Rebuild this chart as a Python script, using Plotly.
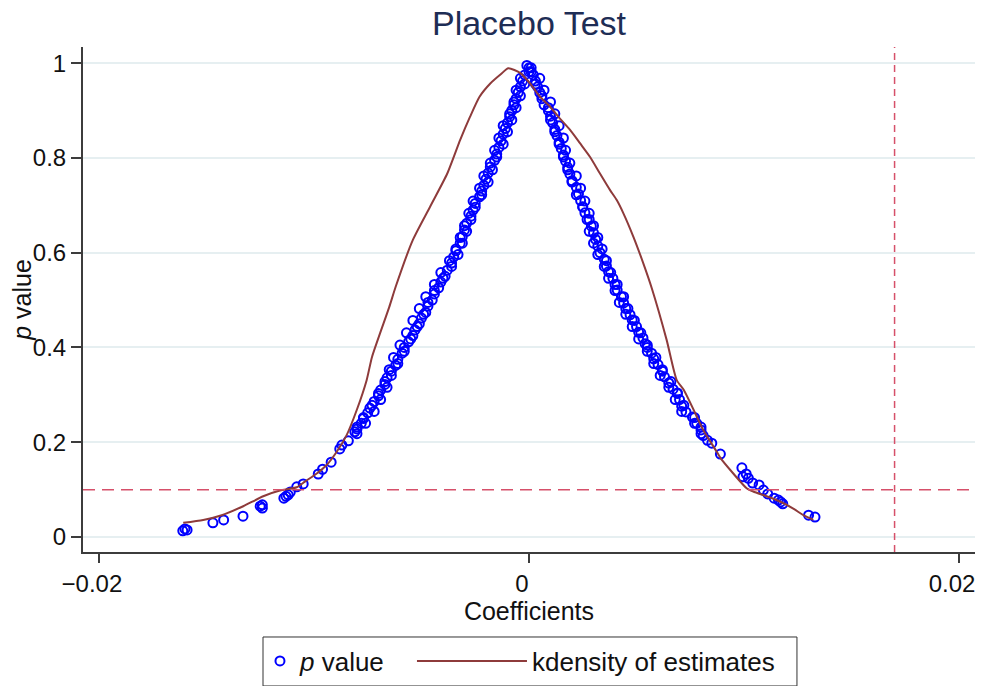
import plotly.graph_objects as go

# Placebo test: estimated coefficients vs p value, plus kdensity of estimates
# values

# left arm (negative coefficients), dense part
coef_left = [-0.0001, 0.0000, -0.0002, -0.0003, -0.0004, -0.0005, -0.0006, -0.0007, -0.0008, -0.0009,
             -0.0010, -0.0011, -0.0012, -0.0013, -0.0014, -0.0015, -0.0016, -0.0018, -0.0019, -0.0020,
             -0.0021, -0.0022, -0.0023, -0.0025, -0.0026, -0.0027, -0.0029, -0.0030, -0.0031, -0.0032,
             -0.0034, -0.0035, -0.0036, -0.0038, -0.0039, -0.0041, -0.0042, -0.0044, -0.0045, -0.0047,
             -0.0048, -0.0050, -0.0051, -0.0053, -0.0054, -0.0056, -0.0058, -0.0059, -0.0061, -0.0062,
             -0.0064, -0.0066, -0.0067, -0.0069, -0.0070, -0.0072, -0.0074, -0.0075, -0.0077, -0.0078,
             -0.0080, -0.0081,
             -0.0000, -0.0002, -0.0004, -0.0006, -0.0008, -0.0010, -0.0012, -0.0015, -0.0017, -0.0019,
             -0.0022, -0.0025, -0.0027, -0.0029, -0.0031, -0.0033, -0.0036, -0.0040, -0.0044, -0.0047,
             -0.0049, -0.0052, -0.0055, -0.0058, -0.0061, -0.0064, -0.0066, -0.0069, -0.0072, -0.0076,
             -0.0080,
             -0.0004, -0.0006, -0.0007, -0.0009, -0.0012, -0.0014, -0.0016, -0.0018, -0.0021, -0.0023,
             -0.0026, -0.0028, -0.0030, -0.0032, -0.0034, -0.0037, -0.0041, -0.0044, -0.0048, -0.0051,
             -0.0054, -0.0057, -0.0060, -0.0063, -0.0065, -0.0067, -0.0070, -0.0073, -0.0077, -0.0080]
p_left = [0.995, 0.990, 0.975, 0.962, 0.950, 0.938, 0.925, 0.912, 0.900, 0.887,
          0.874, 0.862, 0.850, 0.836, 0.822, 0.808, 0.795, 0.781, 0.768, 0.755,
          0.742, 0.730, 0.718, 0.704, 0.690, 0.677, 0.662, 0.648, 0.634, 0.620,
          0.604, 0.591, 0.578, 0.563, 0.550, 0.538, 0.526, 0.513, 0.500, 0.487,
          0.474, 0.462, 0.450, 0.437, 0.425, 0.412, 0.400, 0.388, 0.375, 0.362,
          0.350, 0.336, 0.322, 0.310, 0.298, 0.286, 0.272, 0.262, 0.250, 0.240,
          0.228, 0.222,
          0.982, 0.956, 0.931, 0.906, 0.880, 0.855, 0.829, 0.802, 0.775, 0.749,
          0.722, 0.696, 0.670, 0.645, 0.620, 0.596, 0.571, 0.546, 0.520, 0.495,
          0.470, 0.444, 0.418, 0.392, 0.366, 0.341, 0.316, 0.290, 0.265, 0.240,
          0.218,
          0.968, 0.943, 0.918, 0.893, 0.868, 0.842, 0.816, 0.789, 0.762, 0.736,
          0.709, 0.683, 0.657, 0.632, 0.608, 0.583, 0.558, 0.533, 0.507, 0.482,
          0.457, 0.431, 0.405, 0.379, 0.353, 0.328, 0.303, 0.278, 0.252, 0.232]

# left tail
coef_left_tail = [-0.0084, -0.0087, -0.0088, -0.0092, -0.0096, -0.0098, -0.0105, -0.0108, -0.0111, -0.0112,
                  -0.0114, -0.0113, -0.0124, -0.0125, -0.0124, -0.0133, -0.0142, -0.0147, -0.0161, -0.0160,
                  -0.0159]
p_left_tail = [0.203, 0.194, 0.186, 0.158, 0.143, 0.133, 0.112, 0.106, 0.095, 0.089,
               0.082, 0.086, 0.061, 0.065, 0.068, 0.044, 0.036, 0.030, 0.013, 0.017,
               0.015]

# right arm (positive coefficients), dense part
coef_right = [0.0001, 0.0002, 0.0003, 0.0004, 0.0005, 0.0006, 0.0007, 0.0009, 0.0010, 0.0011,
              0.0012, 0.0013, 0.0014, 0.0015, 0.0016, 0.0017, 0.0018, 0.0019, 0.0020, 0.0022,
              0.0023, 0.0024, 0.0025, 0.0026, 0.0028, 0.0029, 0.0030, 0.0031, 0.0032, 0.0033,
              0.0035, 0.0036, 0.0037, 0.0039, 0.0040, 0.0041, 0.0043, 0.0044, 0.0045, 0.0047,
              0.0048, 0.0050, 0.0051, 0.0053, 0.0054, 0.0055, 0.0057, 0.0058, 0.0060, 0.0062,
              0.0063, 0.0065, 0.0067, 0.0069, 0.0070, 0.0071, 0.0073, 0.0076, 0.0078, 0.0080,
              0.0081, 0.0083, 0.0085,
              0.0001, 0.0003, 0.0006, 0.0009, 0.0010, 0.0012, 0.0014, 0.0016, 0.0018, 0.0020,
              0.0022, 0.0025, 0.0027, 0.0028, 0.0030, 0.0032, 0.0035, 0.0037, 0.0040, 0.0042,
              0.0045, 0.0048, 0.0051, 0.0055, 0.0058, 0.0061, 0.0065, 0.0068, 0.0071, 0.0077,
              0.0080,
              0.0005, 0.0007, 0.0010, 0.0012, 0.0014, 0.0016, 0.0017, 0.0019, 0.0022, 0.0024,
              0.0026, 0.0028, 0.0030, 0.0032, 0.0034, 0.0036, 0.0038, 0.0041, 0.0044, 0.0046,
              0.0049, 0.0052, 0.0055, 0.0059, 0.0062, 0.0066, 0.0069, 0.0072, 0.0077, 0.0080]
p_right = [0.990, 0.975, 0.962, 0.950, 0.938, 0.925, 0.912, 0.900, 0.888, 0.874,
           0.860, 0.847, 0.833, 0.820, 0.806, 0.793, 0.780, 0.766, 0.752, 0.738,
           0.724, 0.710, 0.697, 0.684, 0.670, 0.656, 0.642, 0.628, 0.614, 0.600,
           0.586, 0.572, 0.560, 0.546, 0.533, 0.521, 0.507, 0.494, 0.482, 0.469,
           0.458, 0.444, 0.432, 0.420, 0.408, 0.400, 0.388, 0.376, 0.364, 0.350,
           0.338, 0.325, 0.312, 0.304, 0.290, 0.276, 0.264, 0.253, 0.240, 0.226,
           0.214, 0.204, 0.198,
           0.982, 0.956, 0.931, 0.906, 0.880, 0.855, 0.829, 0.802, 0.775, 0.749,
           0.722, 0.696, 0.670, 0.645, 0.620, 0.596, 0.571, 0.546, 0.520, 0.495,
           0.470, 0.444, 0.418, 0.392, 0.366, 0.341, 0.316, 0.290, 0.265, 0.240,
           0.218,
           0.968, 0.943, 0.918, 0.893, 0.868, 0.842, 0.816, 0.789, 0.762, 0.736,
           0.709, 0.683, 0.657, 0.632, 0.608, 0.583, 0.558, 0.533, 0.507, 0.482,
           0.457, 0.431, 0.405, 0.379, 0.353, 0.328, 0.303, 0.278, 0.252, 0.232]

# right tail
coef_right_tail = [0.0089, 0.0099, 0.00995, 0.0102, 0.0101, 0.0104, 0.0107, 0.0109, 0.0111, 0.0114,
                   0.0117, 0.0118, 0.0116, 0.0130, 0.0133]
p_right_tail = [0.175, 0.146, 0.127, 0.124, 0.133, 0.114, 0.110, 0.099, 0.091, 0.082,
                0.074, 0.070, 0.078, 0.046, 0.042]

# kernel density of estimates (rescaled to the p value axis)
kdens_x = [-0.01608, -0.01515, -0.01429, -0.01329, -0.01236, -0.01158, -0.01080, -0.01042, -0.00987, -0.00941,
           -0.00894, -0.00848, -0.00801, -0.00755, -0.0073, -0.0065, -0.0062, -0.0054, -0.0046, -0.0038,
           -0.0032, -0.00274, -0.0023, -0.0018, -0.0013, -0.00096, -0.0004, 0.00005, 0.00051, 0.00098,
           0.00144, 0.00191, 0.00237, 0.00284, 0.00330, 0.00377, 0.00408, 0.00439, 0.00485, 0.00532,
           0.00571, 0.0064, 0.00687, 0.0072, 0.00795, 0.0081, 0.00873, 0.0089, 0.00950, 0.01012,
           0.01043, 0.01105, 0.01167, 0.01229, 0.01276, 0.01322]
kdens_y = [0.030, 0.036, 0.046, 0.065, 0.086, 0.098, 0.105, 0.117, 0.134, 0.152,
           0.180, 0.215, 0.268, 0.331, 0.380, 0.485, 0.528, 0.627, 0.697, 0.767,
           0.838, 0.887, 0.929, 0.957, 0.977, 0.989, 0.979, 0.957, 0.929, 0.908,
           0.883, 0.859, 0.831, 0.802, 0.767, 0.732, 0.711, 0.683, 0.634, 0.577,
           0.525, 0.416, 0.331, 0.310, 0.240, 0.226, 0.180, 0.167, 0.134, 0.103,
           0.096, 0.086, 0.075, 0.060, 0.046, 0.036]

P_CUTOFF = 0.1
TRUE_COEF = 0.0170

x_ticks = [-0.02, 0, 0.02]
x_tick_labels = ['\u22120.02', '0', '0.02']
y_ticks = [0, 0.2, 0.4, 0.6, 0.8, 1]
y_tick_labels = ['0', '0.2', '0.4', '0.6', '0.8', '1']

FONT = 'Arial, Liberation Sans, sans-serif'
AXIS_COLOR = '#3c3c3c'
GRID_COLOR = '#e6eff1'
REF_COLOR = '#d6506a'

fig = go.Figure()

fig.add_trace(go.Scatter(
    x=coef_left + coef_left_tail + coef_right + coef_right_tail,
    y=p_left + p_left_tail + p_right + p_right_tail,
    mode='markers',
    name='<i>p</i> value',
    legend='legend',
    marker=dict(symbol='circle-open', size=9, color='#0000ff', line=dict(width=2, color='#0000ff')),
))

fig.add_trace(go.Scatter(
    x=kdens_x,
    y=kdens_y,
    mode='lines',
    name='kdensity of estimates',
    legend='legend2',
    line=dict(color='#8e3b3b', width=2, shape='spline', smoothing=0.6),
))

fig.add_hline(y=P_CUTOFF, line=dict(color=REF_COLOR, width=1.5, dash='12px,7px'))
fig.add_vline(x=TRUE_COEF, line=dict(color=REF_COLOR, width=1.5, dash='7px,5px'))

# one frame round both legend parts
fig.add_shape(type='rect', xref='paper', yref='paper',
              x0=0.2018, x1=0.8004, y0=-0.2653, y1=-0.1683,
              line=dict(color='#333333', width=1), fillcolor='rgba(0,0,0,0)')

# the page adds an 8px body margin, so the figure is kept 16px smaller
fig.update_layout(
    width=969,
    height=678,
    paper_bgcolor='white',
    plot_bgcolor='white',
    font=dict(family=FONT, size=24, color='#111111'),
    margin=dict(l=75, r=2, t=39, b=134),
    title=dict(text='Placebo Test', x=0.5, xref='paper', xanchor='center',
               y=1, yanchor='top', pad=dict(t=3),
               font=dict(size=34, color='#1e2d55')),
    xaxis=dict(
        range=[-0.02074, 0.02074],
        tickvals=x_ticks,
        ticktext=x_tick_labels,
        ticklabelshift=-7,
        ticks='outside', ticklen=9, tickwidth=2, tickcolor=AXIS_COLOR,
        showline=True, linecolor=AXIS_COLOR, linewidth=2,
        showgrid=False, zeroline=False,
        title=dict(text='Coefficients', standoff=2, font=dict(size=25)),
    ),
    yaxis=dict(
        range=[-0.0316, 1.034],
        tickvals=y_ticks,
        ticktext=y_tick_labels,
        ticks='outside', ticklen=10, tickwidth=2, tickcolor=AXIS_COLOR,
        showline=True, linecolor=AXIS_COLOR, linewidth=2,
        showgrid=True, gridcolor=GRID_COLOR, gridwidth=2,
        zeroline=False,
        title=dict(text='<i>p</i> value', standoff=0, font=dict(size=25)),
    ),
    showlegend=True,
    legend=dict(
        orientation='h',
        x=0.1984, xanchor='left',
        y=-0.2158, yanchor='middle',
        borderwidth=0, bgcolor='rgba(0,0,0,0)',
        font=dict(size=26),
        itemwidth=30,
    ),
    legend2=dict(
        orientation='h',
        x=0.3688, xanchor='left',
        y=-0.2158, yanchor='middle',
        borderwidth=0, bgcolor='rgba(0,0,0,0)',
        font=dict(size=26),
        itemwidth=110,
    ),
)

fig.write_html("out.html")
